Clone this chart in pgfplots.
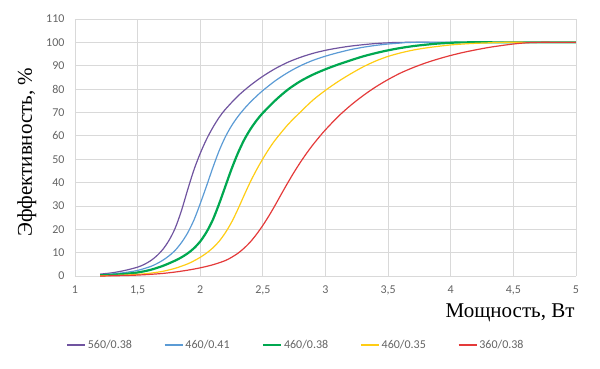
\documentclass[border=0pt]{standalone}
\usepackage{pgfplots}
\pgfplotsset{compat=1.18}
\usepackage{fontspec}
\setmainfont{Liberation Serif}
\newfontfamily\carl{Carlito}
\definecolor{cPurple}{RGB}{112,84,160}
\definecolor{cBlue}{RGB}{91,155,213}
\definecolor{cGreen}{RGB}{0,168,80}
\definecolor{cYellow}{RGB}{255,205,20}
\definecolor{cRed}{RGB}{228,58,58}
\definecolor{cGrid}{RGB}{217,217,217}
\definecolor{cTxt}{RGB}{100,100,100}
\begin{document}
\begin{tikzpicture}
\begin{axis}[
  at={(0,0)}, anchor=south west,
  scale only axis, width=501pt, height=257pt,
  xmin=1, xmax=5, ymin=0, ymax=110,
  xtick={1,1.5,...,5}, ytick={0,10,...,110},
  xticklabels={1,{1,5},2,{2,5},3,{3,5},4,{4,5},5},
  yticklabels={0,10,20,30,40,50,60,70,80,90,100,110},
  grid=major, major grid style={cGrid, line width=0.8pt},
  axis line style={draw=none},
  major tick length=0pt,
  tick label style={font=\carl\fontsize{12}{12}\selectfont, text=cTxt},
  xticklabel style={yshift=-6pt},
  yticklabel style={xshift=-7pt},
  xlabel={Мощность, Вт},
  ylabel={Эффективность, \%},
  every axis x label/.style={at={(axis description cs:1.004,-0.144)}, anchor=east, font=\fontsize{21}{21}\selectfont},
  every axis y label/.style={at={(axis description cs:-0.096,0.482)}, rotate=90, anchor=center, font=\fontsize{21}{21}\selectfont},
  legend columns=5,
  legend style={at={(axis description cs:0.441,-0.268)}, anchor=center, draw=none, fill=none,
    font=\carl\fontsize{12}{12}\selectfont, text=cTxt,
    /tikz/every even column/.append style={column sep=30pt},
    inner sep=0pt},
  legend image code/.code={\draw[#1] (0pt,0pt) -- (18pt,0pt);},
  legend cell align=left,
]
\addlegendimage{draw=cPurple, line width=1.5pt, sharp plot}
\addlegendentry{560/0.38}
\addlegendimage{draw=cBlue, line width=1.5pt, sharp plot}
\addlegendentry{460/0.41}
\addlegendimage{draw=cGreen, line width=2.4pt, sharp plot}
\addlegendentry{460/0.38}
\addlegendimage{draw=cYellow, line width=1.5pt, sharp plot}
\addlegendentry{460/0.35}
\addlegendimage{draw=cRed, line width=1.5pt, sharp plot}
\addlegendentry{360/0.38}
\addplot[cPurple, line width=1.2pt, smooth, forget plot] coordinates {
(1.2,0.8)(1.3,1.4)(1.4,2.4)(1.5,3.8)(1.55,4.9)(1.6,6.4)(1.65,8.5)(1.7,11.3)(1.75,15.2)(1.8,20.5)(1.85,28)(1.9,37)(1.95,45.5)(2.0,52.5)(2.05,58.5)(2.1,63.5)(2.15,67.8)(2.2,71.3)(2.3,77)(2.4,81.6)(2.5,85.5)(2.6,88.8)(2.7,91.5)(2.8,93.6)(2.9,95.3)(3.0,96.6)(3.1,97.6)(3.2,98.4)(3.3,99.0)(3.4,99.5)(3.5,99.8)(3.6,100)(4.0,100)(4.5,100)(5.0,100)};
\addplot[cBlue, line width=1.2pt, smooth, forget plot] coordinates {
(1.2,0.5)(1.3,0.9)(1.4,1.5)(1.5,2.4)(1.6,4)(1.65,5.2)(1.7,6.7)(1.75,8.6)(1.8,11)(1.85,14.3)(1.9,18.5)(1.95,24)(2.0,31)(2.05,38.5)(2.1,46.3)(2.15,53.5)(2.2,59.5)(2.25,64.3)(2.3,68.2)(2.35,71.5)(2.4,74.4)(2.45,77)(2.5,79.4)(2.6,83.6)(2.7,87.1)(2.8,90)(2.9,92.3)(3.0,94.1)(3.1,95.6)(3.2,96.9)(3.3,97.9)(3.4,98.7)(3.5,99.3)(3.6,99.7)(3.7,100)(4.2,100)(4.6,100)(5.0,100)};
\addplot[cGreen, line width=2.2pt, smooth, forget plot] coordinates {
(1.2,0.3)(1.3,0.5)(1.4,0.9)(1.5,1.5)(1.6,2.6)(1.7,4.3)(1.8,6.6)(1.85,8)(1.9,9.7)(1.95,11.9)(2.0,14.8)(2.05,18.8)(2.1,24)(2.15,30.8)(2.2,38.3)(2.25,45.8)(2.3,52.5)(2.35,58.2)(2.4,62.8)(2.45,66.6)(2.5,69.8)(2.6,75.2)(2.7,79.8)(2.8,83.4)(2.9,86.2)(3.0,88.5)(3.1,90.5)(3.2,92.3)(3.3,94)(3.4,95.4)(3.5,96.6)(3.6,97.6)(3.7,98.4)(3.8,99)(3.9,99.5)(4.0,99.8)(4.1,100)(4.5,100)(5.0,100)};
\addplot[cYellow, line width=1.2pt, smooth, forget plot] coordinates {
(1.2,0.1)(1.3,0.2)(1.4,0.4)(1.5,0.7)(1.6,1.2)(1.7,2)(1.8,3.3)(1.9,5.2)(1.95,6.5)(2.0,8)(2.05,9.8)(2.1,12)(2.15,14.8)(2.2,18.5)(2.25,23)(2.3,28.5)(2.35,34.5)(2.4,40.3)(2.45,45.5)(2.5,50.2)(2.55,54.5)(2.6,58.3)(2.7,64.8)(2.8,70.2)(2.9,75.3)(3.0,79.5)(3.1,83.2)(3.2,86.5)(3.3,89.5)(3.4,92)(3.5,94)(3.6,95.5)(3.7,96.7)(3.8,97.6)(3.9,98.3)(4.0,98.9)(4.1,99.3)(4.2,99.6)(4.3,99.8)(4.4,100)(4.7,100)(5.0,100)};
\addplot[cRed, line width=1.2pt, smooth, forget plot] coordinates {
(1.2,0)(1.3,0.1)(1.4,0.2)(1.5,0.4)(1.6,0.7)(1.7,1.1)(1.8,1.7)(1.9,2.5)(2.0,3.5)(2.1,4.8)(2.2,6.6)(2.25,8)(2.3,9.7)(2.35,11.9)(2.4,14.6)(2.45,17.9)(2.5,21.7)(2.55,25.9)(2.6,30.5)(2.65,35.3)(2.7,40)(2.75,44.5)(2.8,48.7)(2.85,52.6)(2.9,56.2)(2.95,59.5)(3.0,62.6)(3.1,68.2)(3.2,73)(3.3,77.2)(3.4,80.9)(3.5,84.1)(3.6,86.9)(3.7,89.2)(3.8,91.2)(3.9,92.9)(4.0,94.4)(4.1,95.7)(4.2,96.8)(4.3,97.8)(4.4,98.6)(4.5,99.3)(4.6,99.8)(4.7,100)(4.85,100)(5.0,100)};
\end{axis}
\pgfresetboundingbox
\path (-75pt,-92pt) rectangle (525pt,276pt);
\end{tikzpicture}
\end{document}
